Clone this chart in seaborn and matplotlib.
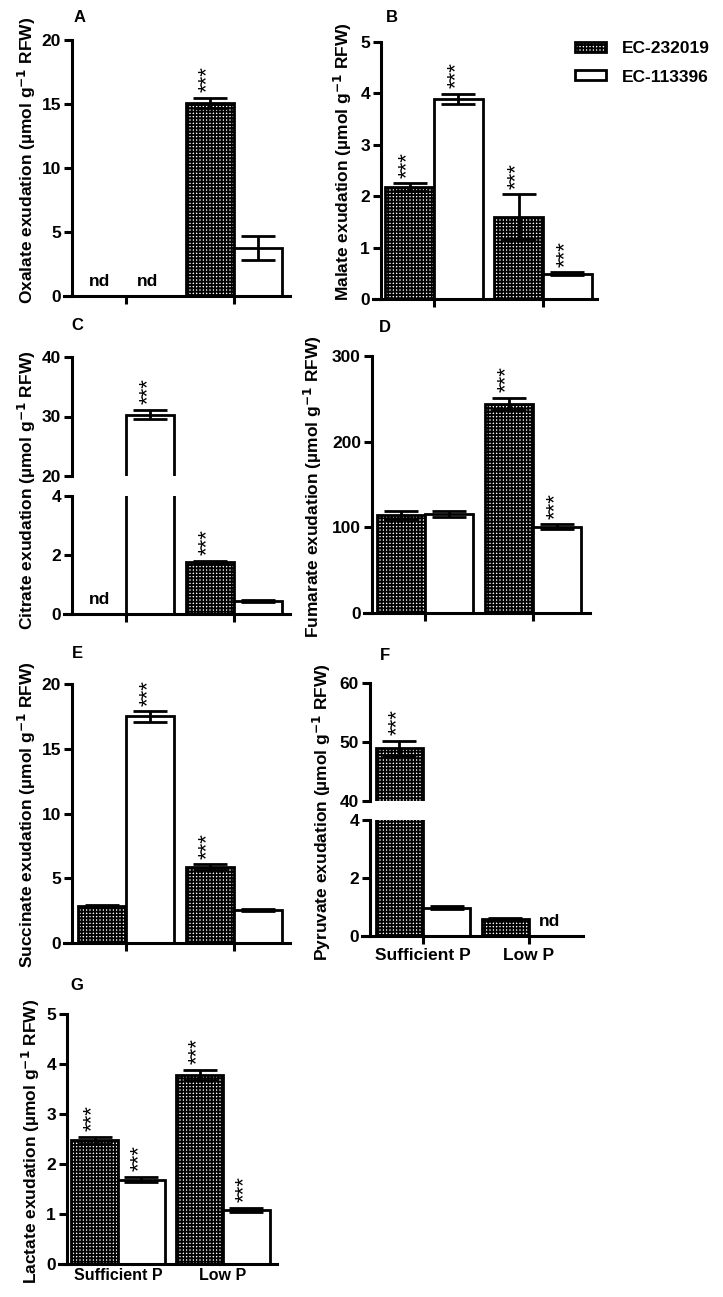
import matplotlib
matplotlib.use('Agg')
import matplotlib.pyplot as plt
from matplotlib.patches import Patch
import seaborn as sns
import pandas as pd

# ---------------- data ----------------
conditions = ['Sufficient P', 'Low P']
genotypes = ['EC-232019', 'EC-113396']

oxalate_232019 = [0.0, 15.1]
oxalate_232019_se = [0.0, 0.4]
oxalate_113396 = [0.0, 3.75]
oxalate_113396_se = [0.0, 0.9]

malate_232019 = [2.18, 1.6]
malate_232019_se = [0.07, 0.44]
malate_113396 = [3.89, 0.49]
malate_113396_se = [0.1, 0.03]

citrate_232019 = [0.0, 1.77]
citrate_232019_se = [0.0, 0.03]
citrate_113396 = [30.3, 0.45]
citrate_113396_se = [0.8, 0.04]

fumarate_232019 = [114.5, 244.0]
fumarate_232019_se = [5.0, 7.0]
fumarate_113396 = [115.5, 100.5]
fumarate_113396_se = [4.0, 3.0]

succinate_232019 = [2.86, 5.87]
succinate_232019_se = [0.1, 0.2]
succinate_113396 = [17.5, 2.55]
succinate_113396_se = [0.4, 0.1]

pyruvate_232019 = [48.9, 0.59]
pyruvate_232019_se = [1.3, 0.03]
pyruvate_113396 = [0.97, 0.0]
pyruvate_113396_se = [0.05, 0.0]

lactate_232019 = [2.48, 3.78]
lactate_232019_se = [0.07, 0.1]
lactate_113396 = [1.69, 1.09]
lactate_113396_se = [0.05, 0.04]

# significance (***) and not-detected flags, order [Sufficient P, Low P]
stars = {
    'A': ([False, True], [False, False]),
    'B': ([True, True], [True, True]),
    'C': ([False, True], [True, False]),
    'D': ([False, True], [False, True]),
    'E': ([False, True], [True, False]),
    'F': ([True, False], [False, False]),
    'G': ([True, True], [True, True]),
}
nd = {
    'A': ([True, False], [True, False]),
    'C': ([True, False], [False, False]),
    'F': ([False, False], [False, True]),
}

# ---------------- style ----------------
sns.set_style('ticks')
plt.rcParams['font.family'] = ['Liberation Sans', 'DejaVu Sans']
plt.rcParams['font.weight'] = 'bold'
plt.rcParams['mathtext.fontset'] = 'custom'
plt.rcParams['mathtext.rm'] = 'Liberation Sans:bold'
plt.rcParams['mathtext.bf'] = 'Liberation Sans:bold'
plt.rcParams['mathtext.default'] = 'bf'
plt.rcParams['hatch.linewidth'] = 1.35
plt.rcParams['hatch.color'] = 'black'
plt.rcParams['axes.edgecolor'] = 'black'
plt.rcParams['xtick.color'] = 'black'
plt.rcParams['ytick.color'] = 'black'
plt.rcParams['text.color'] = 'black'
HATCH = '+++++'

W, H = 723, 1297
fig = plt.figure(figsize=(W / 100, H / 100), dpi=100)


def make_axes(spine, c0, c1, right, top, bottom, ext=8):
    left = spine - ext
    ax = fig.add_axes([left / W, 1 - bottom / H, (right - left) / W, (bottom - top) / H])
    u = c1 - c0
    geo = ((left - c0) / u, (right - c0) / u, (spine - c0) / u)
    return ax, geo


def draw(ax, geo, m1, e1, m2, e2, ylim, yticks, st=None, ndf=None,
         lower=True, xlabels=False, xticklen=6, xlabelsize=12.5):
    df = pd.DataFrame({
        'cond': conditions * 2,
        'geno': [genotypes[0]] * 2 + [genotypes[1]] * 2,
        'val': list(m1) + list(m2),
    })
    sns.barplot(data=df, x='cond', y='val', hue='geno', order=conditions,
                hue_order=genotypes, width=0.89, palette=['white', 'white'],
                saturation=1, edgecolor='black', linewidth=2, errorbar=None,
                legend=False, ax=ax)
    bar_conts = list(ax.containers)[:2]
    for p in bar_conts[0]:
        p.set_hatch(HATCH)
    means = [m1, m2]
    errs = [e1, e2]
    for k, cont in enumerate(bar_conts):
        for j, bar in enumerate(list(cont.patches)):
            x = bar.get_x() + bar.get_width() / 2
            y = means[k][j]
            e = errs[k][j]
            if e > 0:
                ax.errorbar(x, y, yerr=e, fmt='none', ecolor='black',
                            elinewidth=2, capsize=12, capthick=2, zorder=4)
            if st is not None and st[k][j] and ylim[0] <= y + e <= ylim[1]:
                ax.annotate('***', xy=(x, y + e), xytext=(-1.5, 4),
                            textcoords='offset points', rotation=90,
                            ha='center', va='bottom', fontsize=16,
                            fontweight='normal')
            if ndf is not None and ndf[k][j] and lower:
                ax.annotate('nd', xy=(x, 0), xytext=(-2, 5),
                            textcoords='offset points', ha='center',
                            va='bottom', fontsize=12.5, fontweight='bold')
    ax.set_xlim(geo[0], geo[1])
    ax.set_ylim(*ylim)
    ax.set_yticks(yticks)
    ax.set_yticklabels([str(t) for t in yticks])
    ax.spines['left'].set_position(('data', geo[2]))
    for s in ['top', 'right']:
        ax.spines[s].set_visible(False)
    ax.spines['left'].set_linewidth(2.2)
    ax.spines['bottom'].set_linewidth(2.2)
    ax.set_xlabel('')
    ax.set_ylabel('')
    ax.tick_params(axis='y', width=2.2, length=6, labelsize=12.5, pad=2)
    if lower:
        ax.tick_params(axis='x', width=2.2, length=xticklen, labelsize=xlabelsize,
                       pad=3, labelbottom=xlabels)
    else:
        ax.spines['bottom'].set_visible(False)
        ax.tick_params(axis='x', bottom=False, labelbottom=False)


# A
ax, g = make_axes(72, 126, 234, 290, 40, 296)
draw(ax, g, oxalate_232019, oxalate_232019_se, oxalate_113396, oxalate_113396_se,
     (0, 20), [0, 5, 10, 15, 20], stars['A'], nd['A'])
# B
ax, g = make_axes(381, 434, 543, 597, 42, 299)
draw(ax, g, malate_232019, malate_232019_se, malate_113396, malate_113396_se,
     (0, 5), [0, 1, 2, 3, 4, 5], stars['B'])
# C (broken axis)
ax, g = make_axes(72, 126, 234, 290, 357, 476)
draw(ax, g, citrate_232019, citrate_232019_se, citrate_113396, citrate_113396_se,
     (20, 40), [20, 30, 40], stars['C'], nd['C'], lower=False)
ax, g = make_axes(72, 126, 234, 290, 496, 614)
draw(ax, g, citrate_232019, citrate_232019_se, citrate_113396, citrate_113396_se,
     (0, 4), [0, 2, 4], stars['C'], nd['C'])
# D
ax, g = make_axes(372, 425, 533, 590, 356, 613)
draw(ax, g, fumarate_232019, fumarate_232019_se, fumarate_113396, fumarate_113396_se,
     (0, 300), [0, 100, 200, 300], stars['D'])
# E
ax, g = make_axes(72, 126, 234, 290, 684, 943)
draw(ax, g, succinate_232019, succinate_232019_se, succinate_113396, succinate_113396_se,
     (0, 20), [0, 5, 10, 15, 20], stars['E'])
# F (broken axis)
ax, g = make_axes(370, 423, 529, 583, 683, 801)
draw(ax, g, pyruvate_232019, pyruvate_232019_se, pyruvate_113396, pyruvate_113396_se,
     (40, 60), [40, 50, 60], stars['F'], nd['F'], lower=False)
ax, g = make_axes(370, 423, 529, 583, 820, 936)
draw(ax, g, pyruvate_232019, pyruvate_232019_se, pyruvate_113396, pyruvate_113396_se,
     (0, 4), [0, 2, 4], stars['F'], nd['F'], xlabels=True)
# G
ax, g = make_axes(67, 118, 223, 277, 1014, 1264)
draw(ax, g, lactate_232019, lactate_232019_se, lactate_113396, lactate_113396_se,
     (0, 5), [0, 1, 2, 3, 4, 5], stars['G'], xlabels=True, xticklen=0,
     xlabelsize=11.5)

# y-axis labels
unit = ' (µmol g$^{\\mathsf{-1}}$ RFW)'
ylabels = [
    ('Oxalate exudation', 27, 160),
    ('Malate exudation', 343, 162),
    ('Citrate exudation', 27, 490),
    ('Fumarate exudation', 313, 487),
    ('Succinate exudation', 27, 815),
    ('Pyruvate exudation', 322, 812),
    ('Lactate exudation', 31, 1141),
]
for txt, x, y in ylabels:
    fig.text(x / W, 1 - y / H, txt + unit, rotation=90, ha='center', va='center',
             fontsize=12.5, fontweight='bold')

# panel letters
for lab, x, y in [('A', 80, 17), ('B', 392, 17), ('C', 77, 326), ('D', 385, 327),
                  ('E', 77, 654), ('F', 385, 655), ('G', 77, 986)]:
    fig.text(x / W, 1 - y / H, lab, ha='center', va='center', fontsize=12,
             fontweight='bold')

# legend
handles = [Patch(facecolor='white', edgecolor='black', hatch=HATCH, linewidth=2),
           Patch(facecolor='white', edgecolor='black', linewidth=2)]
fig.legend(handles, genotypes, loc='center left', bbox_to_anchor=(575 / W, 1 - 63 / H),
           frameon=False, prop={'size': 12.5, 'weight': 'bold'}, handlelength=1.8,
           handleheight=0.5, handletextpad=0.9, labelspacing=0.75, borderpad=0,
           borderaxespad=0)

fig.savefig('out.png', dpi=100, facecolor='white')
